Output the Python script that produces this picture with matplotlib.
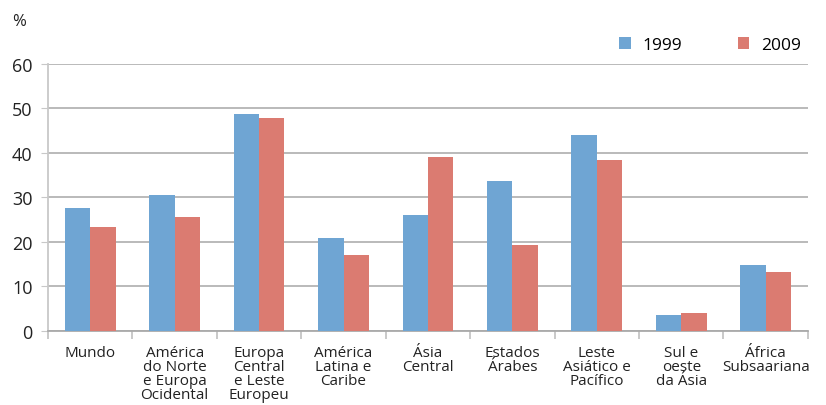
import numpy as np
import matplotlib
matplotlib.use('Agg')
import matplotlib.pyplot as plt

regioes = ['Mundo', 'América\ndo Norte\ne Europa\nOcidental', 'Europa\nCentral\ne Leste\nEuropeu',
           'América\nLatina e\nCaribe', 'Ásia\nCentral', 'Estados\nÁrabes',
           'Leste\nAsiático e\nPacífico', 'Sul e\noeste\nda Ásia', 'África\nSubsaariana']
v1999 = [27.6, 30.6, 48.8, 21.0, 26.1, 33.8, 44.0, 3.7, 14.9]
v2009 = [23.4, 25.6, 47.9, 17.1, 39.2, 19.4, 38.5, 4.1, 13.3]
yticks = [0, 10, 20, 30, 40, 50, 60]

plt.rcParams['font.family'] = ['Open Sans', 'DejaVu Sans']

fig = plt.figure(figsize=(8.26, 4.06), dpi=100)
ax = fig.add_axes([0.0581, 0.1823, 0.92, 0.6576])

x = np.arange(len(regioes))
w = 0.3
ax.bar(x - w / 2, v1999, w, color='#6fa5d3', label='1999', zorder=3)
ax.bar(x + w / 2, v2009, w, color='#db7b71', label='2009', zorder=3)

ax.set_xlim(-0.5, len(regioes) - 0.5)
ax.set_ylim(0, 60)
ax.set_yticks(yticks)
ax.set_yticklabels([str(t) for t in yticks], fontsize=13)
ax.yaxis.grid(True, color='#b4b4b4', linewidth=1.3, zorder=0)
ax.tick_params(axis='y', length=5, color='#c8c8c8', pad=6, colors='#222222')

# tick marks at category boundaries, labels at centers
ax.set_xticks(np.arange(len(regioes) + 1) - 0.5)
ax.set_xticklabels([])
ax.tick_params(axis='x', which='major', length=6, color='#c0c0c0', width=1.2)
ax.set_xticks(x, minor=True)
ax.set_xticklabels(regioes, minor=True, fontsize=11, linespacing=0.9, color='#222222')
ax.tick_params(axis='x', which='minor', length=0, pad=10)

for s in ['top', 'right']:
    ax.spines[s].set_visible(False)
ax.spines['left'].set_color('#c8c8c8')
ax.spines['left'].set_linewidth(1.3)
ax.spines['bottom'].set_color('#aaaaaa')
ax.spines['bottom'].set_linewidth(1.3)

fig.text(0.015, 0.945, '%', fontsize=12, color='#222222', va='center')
fig.legend(loc='center', bbox_to_anchor=(0.86, 0.887), ncol=2, frameon=False,
           fontsize=12.5, handlelength=0.65, handleheight=0.65, columnspacing=3.2,
           handletextpad=0.7)

plt.savefig('out.png', dpi=100)
